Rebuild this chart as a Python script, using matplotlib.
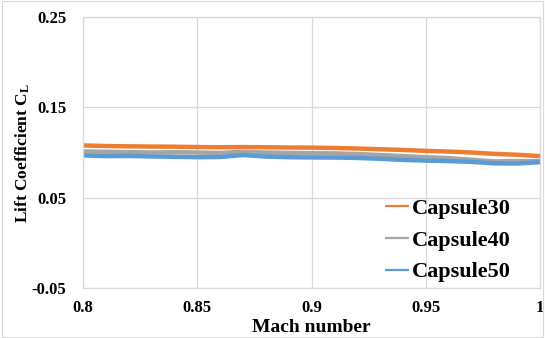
import matplotlib
matplotlib.use("Agg")
import matplotlib.pyplot as plt
import numpy as np
from matplotlib.patches import Rectangle

mach = [0.80, 0.81, 0.82, 0.83, 0.84, 0.85, 0.86, 0.87, 0.88, 0.89, 0.90,
        0.91, 0.92, 0.93, 0.94, 0.95, 0.96, 0.97, 0.98, 0.99, 1.00]
capsule30 = [0.1078, 0.1072, 0.1068, 0.1066, 0.1064, 0.1060, 0.1058, 0.1060, 0.1058, 0.1055, 0.1054,
             0.1050, 0.1044, 0.1036, 0.1028, 0.1018, 0.1010, 0.1000, 0.0985, 0.0975, 0.0960]
capsule40 = [0.1012, 0.1008, 0.1004, 0.1000, 0.1003, 0.1000, 0.0995, 0.1008, 0.1000, 0.0996, 0.0992,
             0.0990, 0.0984, 0.0972, 0.0960, 0.0948, 0.0938, 0.0920, 0.0902, 0.0905, 0.0905]
capsule50 = [0.0968, 0.0960, 0.0962, 0.0956, 0.0952, 0.0948, 0.0950, 0.0972, 0.0955, 0.0948, 0.0945,
             0.0944, 0.0940, 0.0930, 0.0918, 0.0910, 0.0905, 0.0896, 0.0880, 0.0878, 0.0893]
series_names = ["Capsule30", "Capsule40", "Capsule50"]
colors = ["#ED7D31", "#A5A5A5", "#5B9BD5"]
xticks = [0.8, 0.85, 0.9, 0.95, 1.0]
xticklabels = ["0.8", "0.85", "0.9", "0.95", "1"]
yticks = [-0.05, 0.05, 0.15, 0.25]
yticklabels = ["-0.05", "0.05", "0.15", "0.25"]

plt.rcParams['font.family'] = ['Liberation Serif', 'DejaVu Serif']
plt.rcParams['mathtext.fontset'] = 'custom'
plt.rcParams['mathtext.rm'] = 'Liberation Serif:bold'
plt.rcParams['mathtext.it'] = 'Liberation Serif:bold'

fig = plt.figure(figsize=(5.45, 3.38), dpi=100)
ax = fig.add_axes([83/545, 1-288/338, (540-83)/545, (288-17)/338])

for name, vals, c in zip(series_names, [capsule30, capsule40, capsule50], colors):
    ax.plot(mach, vals, color=c, lw=3.2, label=name, solid_capstyle='butt')

ax.set_xlim(0.8, 1.0)
ax.set_ylim(-0.05, 0.25)
ax.set_xticks(xticks)
ax.set_xticklabels(xticklabels, fontsize=12, fontweight='bold')
ax.set_yticks(yticks)
ax.set_yticklabels(yticklabels, fontsize=12, fontweight='bold')
ax.grid(True, color='#D9D9D9', lw=0.9)
ax.set_axisbelow(True)
for s in ax.spines.values():
    s.set_color('#D9D9D9')
    s.set_linewidth(0.9)
ax.tick_params(axis='x', length=0, pad=9)
ax.tick_params(axis='y', length=0, pad=12)
ax.set_xlabel("Mach number", fontsize=14, fontweight='bold')
ax.xaxis.set_label_coords(0.5, -0.115)
ax.set_ylabel(r"Lift Coefficient C$_\mathrm{L}$", fontsize=12.5, fontweight='bold')
ax.yaxis.set_label_coords(-0.112, 0.5)

leg = ax.legend(loc='lower right', frameon=False, prop={'family': 'Liberation Serif', 'weight': 'bold', 'size': 16},
                handlelength=1.1, handletextpad=0.1, labelspacing=0.5, borderaxespad=0.0,
                bbox_to_anchor=(0.955, -0.012))
for line in leg.get_lines():
    line.set_linewidth(1.6)

fig.patches.append(Rectangle((0.004, 0.004), 0.992, 0.992, transform=fig.transFigure,
                             fill=False, edgecolor='#D9D9D9', lw=0.8))
fig.savefig("out.png", dpi=100)
